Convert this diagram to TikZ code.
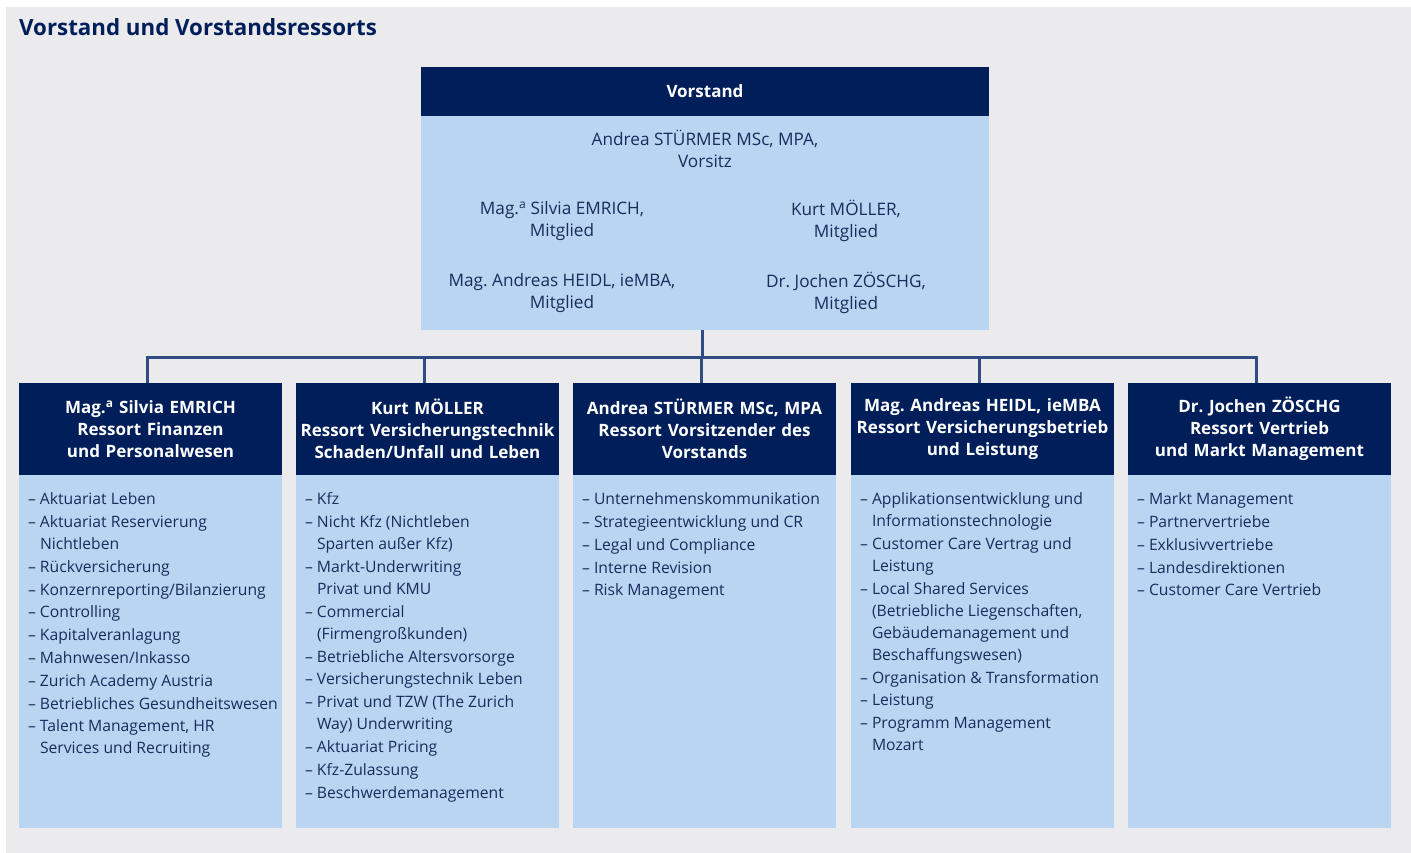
\documentclass[tikz,border=0pt]{standalone}
\usepackage{fontspec}
\setmainfont{Open Sans}
\usetikzlibrary{positioning}
\frenchspacing

\definecolor{zgrau}{HTML}{EBEBED}
\definecolor{znavy}{HTML}{001F5A}
\definecolor{zhell}{HTML}{B9D5F2}
\definecolor{zlinie}{HTML}{2E4B82}
\definecolor{ztext}{HTML}{1A2C5C}

% Aufzaehlungspunkt mit Gedankenstrich und haengendem Einzug
\newcommand\pkt[1]{\par\hangindent=12pt\hangafter=1\noindent\makebox[12pt][l]{--}#1}
\newcommand\liste[1]{\parbox[c][353pt][t]{245pt}{\raggedright\hyphenpenalty=10000\hfuzz=20pt\parskip=0.8pt\vspace*{17pt}#1}}

\begin{document}
\begin{tikzpicture}[x=1pt, y=-1pt, line join=miter,
	kopf/.style={fill=znavy, text=white, font=\fontsize{17}{22}\selectfont\bfseries, align=center,
		minimum width=263pt, minimum height=92pt, text width=261pt, inner sep=0pt, outer sep=0pt, anchor=north west},
	feld/.style={fill=zhell, text=ztext, font=\fontsize{15.7}{22}\selectfont, inner xsep=9pt, inner ysep=0pt, outer sep=0pt, anchor=north},
	person/.style={text=ztext, font=\fontsize{17.2}{22}\selectfont, align=center, inner sep=0pt},
	linie/.style={draw=zlinie, line width=3pt}]
	\useasboundingbox (0,0) rectangle (1411,853);
	\fill[zgrau] (6,7) rectangle (1411,853);
	\node[anchor=base west, inner sep=0pt, text=znavy, font=\fontsize{22.3}{26}\selectfont\bfseries] (titel) at (19,36) {Vorstand und Vorstandsressorts};
	% Vorstand
	\node[kopf, minimum width=568pt, minimum height=49pt, text width=560pt] (vk) at (421,67) {Vorstand};
	\node[fill=zhell, minimum width=568pt, minimum height=214pt, inner sep=0pt, outer sep=0pt, anchor=north] (vb) at (vk.south) {};
	\node[person] (p1) at (705,149) {Andrea STÜRMER MSc, MPA,\\Vorsitz};
	\node[person] (p2) at (562,221) {Mag.\textsuperscript{a} Silvia EMRICH,\\Mitglied};
	\node[person] (p3) at (846,221) {Kurt MÖLLER,\\Mitglied};
	\node[person] (p4) at (562,293) {Mag. Andreas HEIDL, ieMBA,\\Mitglied};
	\node[person] (p5) at (846,293) {Dr. Jochen ZÖSCHG,\\Mitglied};
	% Ressorts
	\node[kopf] (k1) at (19,383) {Mag.\textsuperscript{a} Silvia EMRICH\\Ressort Finanzen\\und Personalwesen};
	\node[kopf] (k2) at (296,383) {Kurt MÖLLER\\Ressort Versicherungstechnik\\Schaden/Unfall und Leben};
	\node[kopf] (k3) at (573,383) {Andrea STÜRMER MSc, MPA\\Ressort Vorsitzender des\\Vorstands};
	\node[kopf] (k4) at (851,383) {Mag. Andreas HEIDL, ieMBA\\Ressort Versicherungsbetrieb\\und Leistung};
	\node[kopf] (k5) at (1128,383) {Dr. Jochen ZÖSCHG\\Ressort Vertrieb\\und Markt Management};
	\node[feld] (b1) at (k1.south) {\liste{\pkt{Aktuariat Leben}\pkt{Aktuariat Reservierung\newline Nichtleben}\pkt{Rückversicherung}
		\pkt{Konzernreporting/Bilanzierung}\pkt{Controlling}\pkt{Kapitalveranlagung}\pkt{Mahnwesen/Inkasso}
		\pkt{Zurich Academy Austria}\pkt{\mbox{Betriebliches Gesundheitswesen}}\pkt{Talent Management, HR\newline Services und Recruiting}}};
	\node[feld] (b2) at (k2.south) {\liste{\pkt{Kfz}\pkt{Nicht Kfz (Nichtleben\newline Sparten außer Kfz)}\pkt{Markt-Underwriting\newline Privat und KMU}
		\pkt{Commercial\newline (Firmengroßkunden)}\pkt{Betriebliche Altersvorsorge}\pkt{Versicherungstechnik Leben}
		\pkt{Privat und TZW (The Zurich\newline Way) Underwriting}\pkt{Aktuariat Pricing}\pkt{Kfz-Zulassung}\pkt{Beschwerdemanagement}}};
	\node[feld] (b3) at (k3.south) {\liste{\pkt{Unternehmenskommunikation}\pkt{Strategieentwicklung und CR}\pkt{Legal und Compliance}
		\pkt{Interne Revision}\pkt{Risk Management}}};
	\node[feld] (b4) at (k4.south) {\liste{\pkt{Applikationsentwicklung und\newline Informationstechnologie}\pkt{Customer Care Vertrag und\newline Leistung}
		\pkt{Local Shared Services\newline (Betriebliche Liegenschaften,\newline Gebäudemanagement und\newline Beschaffungswesen)}
		\pkt{\mbox{Organisation \& Transformation}}\pkt{Leistung}\pkt{Programm Management\newline Mozart}}};
	\node[feld] (b5) at (k5.south) {\liste{\pkt{Markt Management}\pkt{Partnervertriebe}\pkt{Exklusivvertriebe}\pkt{Landesdirektionen}
		\pkt{Customer Care Vertrieb}}};
	% Verbindungen
	\coordinate (knoten) at (702,357);
	\draw[linie] (vb.south -| knoten) -- (knoten);
	\foreach \i in {1,...,5}\draw[linie] (knoten) -| ([xshift=-3pt]k\i.north);
\end{tikzpicture}
\end{document}
